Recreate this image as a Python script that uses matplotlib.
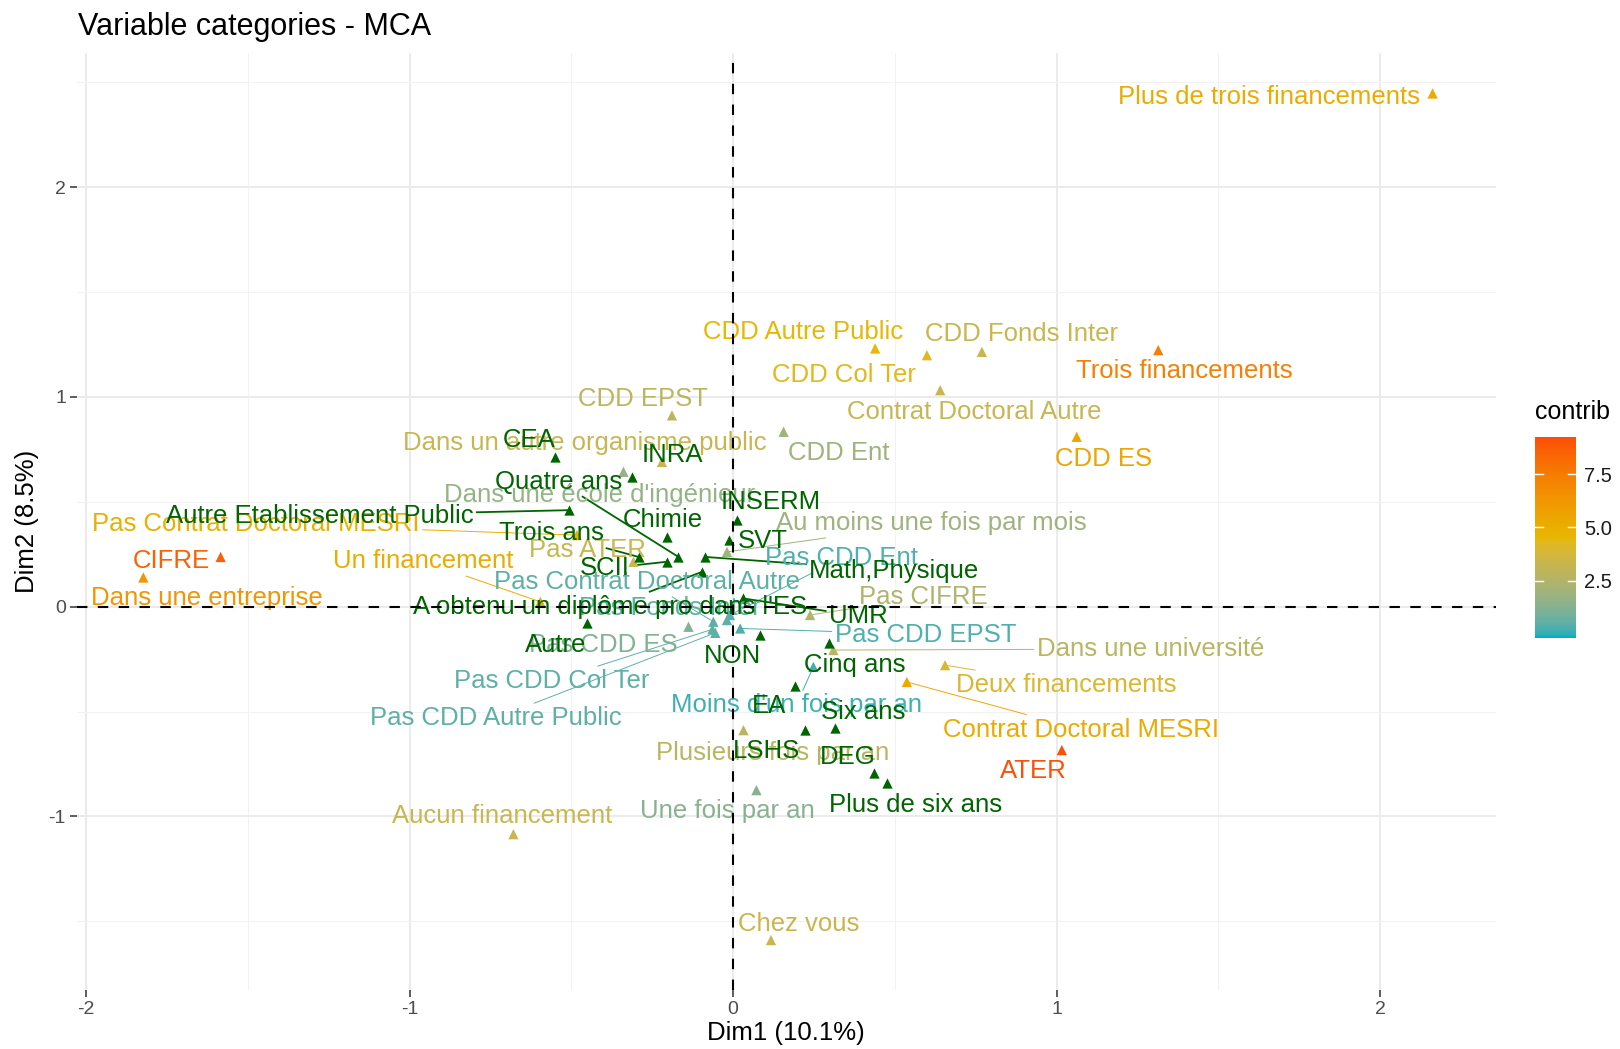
import numpy as np
import matplotlib.pyplot as plt
from matplotlib.colors import ListedColormap, Normalize, to_rgb
from matplotlib.lines import Line2D

plt.rcParams['font.family'] = ['Liberation Sans', 'DejaVu Sans']

# active categories: coordinates on Dim1 / Dim2 and contribution
active_cats = [
    "Plus de trois financements", "Trois financements", "Deux financements",
    "Un financement", "Aucun financement",
    "Contrat Doctoral MESRI", "Pas Contrat Doctoral MESRI",
    "Contrat Doctoral Autre", "Pas Contrat Doctoral Autre",
    "CIFRE", "Pas CIFRE", "ATER", "Pas ATER",
    "CDD ES", "Pas CDD ES", "CDD EPST", "Pas CDD EPST",
    "CDD Col Ter", "Pas CDD Col Ter", "CDD Autre Public", "Pas CDD Autre Public",
    "CDD Ent", "Pas CDD Ent", "CDD Fonds Inter", "Pas Fonds Inter",
    "Dans une université", "Dans une école d'ingénieur",
    "Dans un autre organisme public", "Dans une entreprise", "Chez vous",
    "Au moins une fois par mois", "Plusieurs fois par an",
    "Une fois par an", "Moins d'un fois par an",
]
active_dim1 = [2.162, 1.314, 0.655, -0.596, -0.679,
               0.537, -0.483, 0.640, -0.061,
               -1.584, 0.238, 1.016, -0.308,
               1.062, -0.138, -0.189, 0.022,
               0.599, -0.064, 0.439, -0.055,
               0.156, -0.010, 0.769, -0.019,
               0.310, -0.339, -0.220, -1.823, 0.117,
               -0.019, 0.032, 0.072, 0.248]
active_dim2 = [2.447, 1.223, -0.279, 0.023, -1.085,
               -0.359, 0.341, 1.032, -0.072,
               0.237, -0.040, -0.684, 0.214,
               0.810, -0.096, 0.912, -0.104,
               1.199, -0.108, 1.231, -0.125,
               0.834, -0.040, 1.215, -0.064,
               -0.207, 0.643, 0.690, 0.139, -1.590,
               0.261, -0.589, -0.875, -0.287]
active_contrib = [5.2, 7.3, 4.0, 5.2, 3.3,
                  5.3, 5.0, 3.2, 0.5,
                  8.6, 2.4, 9.2, 3.2,
                  5.5, 1.1, 2.8, 0.3,
                  4.3, 0.5, 4.5, 0.5,
                  1.9, 0.3, 3.3, 0.5,
                  2.7, 1.6, 3.2, 6.3, 3.3,
                  1.9, 2.7, 1.3, 0.1]

# supplementary categories
sup_cats = [
    "CEA", "INRA", "INSERM", "Autre Etablissement Public", "UMR", "EA", "Autre",
    "Chimie", "SCII", "SVT", "Math,Physique", "LSHS", "DEG",
    "Trois ans", "Quatre ans", "Cinq ans", "Six ans", "Plus de six ans",
    "A obtenu un diplôme pro dans l'ES", "NON",
]
sup_dim1 = [-0.549, -0.313, 0.012, -0.508, 0.032, 0.192, -0.452,
            -0.205, -0.205, -0.014, -0.086, 0.223, 0.434,
            -0.292, -0.169, 0.295, 0.315, 0.475,
            -0.096, 0.084]
sup_dim2 = [0.714, 0.619, 0.412, 0.460, 0.039, -0.379, -0.080,
            0.333, 0.214, 0.317, 0.237, -0.589, -0.795,
            0.237, 0.237, -0.175, -0.581, -0.843,
            0.166, -0.136]

# repelled label anchors (data units)
active_label_xy = [(1.657, 2.429), (1.395, 1.123), (1.031, -0.374),
                   (-0.958, 0.217), (-0.715, -1.000),
                   (1.076, -0.586), (-1.475, 0.394), (0.744, 0.926), (-0.265, 0.118),
                   (-1.736, 0.217), (0.587, 0.044), (0.929, -0.783), (-0.450, 0.271),
                   (1.146, 0.704), (-0.402, -0.182), (-0.278, 0.990), (0.594, -0.133),
                   (0.342, 1.103), (-0.562, -0.355), (0.217, 1.310), (-0.734, -0.532),
                   (0.326, 0.734), (0.335, 0.232), (0.891, 1.300), (-0.195, -0.005),
                   (1.290, -0.202), (-0.412, 0.532), (-0.460, 0.778), (-1.628, 0.039),
                   (0.204, -1.512),
                   (0.613, 0.399), (0.121, -0.700), (-0.019, -0.975), (0.195, -0.470)]
sup_label_xy = [(-0.632, 0.793), (-0.188, 0.724), (0.115, 0.498), (-1.277, 0.433),
                (0.386, -0.044), (0.112, -0.473), (-0.549, -0.182),
                (-0.217, 0.414), (-0.396, 0.182), (0.093, 0.315), (0.498, 0.172),
                (0.102, -0.690), (0.354, -0.719),
                (-0.562, 0.350), (-0.539, 0.596), (0.377, -0.276), (0.402, -0.502),
                (0.565, -0.946),
                (-0.380, 0.000), (-0.003, -0.236)]


def _to_lab(rgb):
    c = np.asarray(rgb, dtype=float)
    lin = np.where(c <= 0.04045, c / 12.92, ((c + 0.055) / 1.055) ** 2.4)
    m = np.array([[0.4124, 0.3576, 0.1805],
                  [0.2126, 0.7152, 0.0722],
                  [0.0193, 0.1192, 0.9505]])
    xyz = m @ lin / np.array([0.95047, 1.0, 1.08883])
    f = np.where(xyz > 0.008856, np.cbrt(xyz), 7.787 * xyz + 16 / 116)
    return np.array([116 * f[1] - 16, 500 * (f[0] - f[1]), 200 * (f[1] - f[2])])


def _from_lab(lab):
    L, a, b = lab
    fy = (L + 16) / 116
    fx = fy + a / 500
    fz = fy - b / 200
    f = np.array([fx, fy, fz])
    xyz = np.where(f ** 3 > 0.008856, f ** 3, (f - 16 / 116) / 7.787)
    xyz = xyz * np.array([0.95047, 1.0, 1.08883])
    mi = np.array([[3.2406, -1.5372, -0.4986],
                   [-0.9689, 1.8758, 0.0415],
                   [0.0557, -0.2040, 1.0570]])
    lin = mi @ xyz
    c = np.where(lin <= 0.0031308, 12.92 * lin, 1.055 * np.clip(lin, 0, None) ** (1 / 2.4) - 0.055)
    return np.clip(c, 0, 1)


def lab_gradient(hexes, n=256):
    labs = [_to_lab(to_rgb(h)) for h in hexes]
    out = []
    for t in np.linspace(0, 1, n):
        pos = t * (len(labs) - 1)
        i = min(int(pos), len(labs) - 2)
        w = pos - i
        out.append(_from_lab((1 - w) * labs[i] + w * labs[i + 1]))
    return ListedColormap(out)


cmap = lab_gradient(["#00AFBB", "#E7B800", "#FC4E07"])
norm = Normalize(vmin=-0.2, vmax=9.25)
sup_color = "#006400"
label_size = 18.5

fig = plt.figure(figsize=(16.2, 10.49), dpi=100)
ax = fig.add_axes([77 / 1620, 1 - 990 / 1049, (1496 - 77) / 1620, (990 - 53) / 1049])
ax.set_xlim(-2.028, 2.358)
ax.set_ylim(-1.828, 2.640)

ax.set_xticks([-2, -1, 0, 1, 2])
ax.set_yticks([-1, 0, 1, 2])
ax.set_xticks(np.arange(-1.5, 2.4, 1.0), minor=True)
ax.set_yticks([-1.5, -0.5, 0.5, 1.5, 2.5], minor=True)
ax.set_xticklabels(["-2", "-1", "0", "1", "2"])
ax.set_yticklabels(["-1", "0", "1", "2"])
ax.grid(which="major", color="#EBEBEB", linewidth=1.4)
ax.grid(which="minor", color="#F2F2F2", linewidth=0.8)
ax.set_axisbelow(True)
for s in ax.spines.values():
    s.set_visible(False)
ax.tick_params(which="major", length=5, width=1.1, color="#333333",
               labelsize=14, labelcolor="#4D4D4D", pad=3)
ax.tick_params(which="minor", length=0)

ax.axhline(0, color="black", linestyle=(0, (5, 5)), linewidth=1.5, zorder=6)
ax.axvline(0, color="black", linestyle=(0, (5, 5)), linewidth=1.5, zorder=6)

act_colors = [cmap(norm(c)) for c in active_contrib]
ax.scatter(active_dim1, active_dim2, marker="^", s=55, c=act_colors,
           linewidths=0, zorder=3)
ax.scatter(sup_dim1, sup_dim2, marker="^", s=55, c=sup_color,
           linewidths=0, zorder=3)

items = []
for name, (lx, ly), px, py, col in zip(active_cats, active_label_xy,
                                        active_dim1, active_dim2, act_colors):
    t = ax.text(lx, ly, name, color=col, fontsize=label_size,
                ha="center", va="center", zorder=4)
    items.append((t, px, py, col, 0.7))
for name, (lx, ly), px, py in zip(sup_cats, sup_label_xy, sup_dim1, sup_dim2):
    t = ax.text(lx, ly, name, color=sup_color, fontsize=label_size,
                ha="center", va="center", zorder=5)
    items.append((t, px, py, sup_color, 1.3))

# segments from label box to its point when the label sits away from it
fig.canvas.draw()
renderer = fig.canvas.get_renderer()
inv = ax.transData.inverted()
for t, px, py, col, lw in items:
    bb = t.get_window_extent(renderer)
    pad = 3
    x0, x1, y0, y1 = bb.x0 - pad, bb.x1 + pad, bb.y0 - pad, bb.y1 + pad
    X, Y = ax.transData.transform((px, py))
    if x0 <= X <= x1 and y0 <= Y <= y1:
        continue
    cx, cy = (x0 + x1) / 2, (y0 + y1) / 2
    dx, dy = X - cx, Y - cy
    tx = (x1 - cx) / abs(dx) if dx else np.inf
    ty = (y1 - cy) / abs(dy) if dy else np.inf
    k = min(tx, ty)
    ex, ey = cx + k * dx, cy + k * dy
    if np.hypot(X - ex, Y - ey) < 22:
        continue
    (sx, sy), (qx, qy) = inv.transform([(ex, ey), (X, Y)])
    ax.add_line(Line2D([sx, qx], [sy, qy], color=col, linewidth=lw, zorder=2))

fig.text(78 / 1620, 1 - 35 / 1049, "Variable categories - MCA", fontsize=22,
         ha="left", va="baseline", color="black")
fig.text(786 / 1620, 1 - 1033 / 1049, "Dim1 (10.1%)", fontsize=18.5,
         ha="center", va="center")
fig.text(27 / 1620, 1 - 521 / 1049, "Dim2 (8.5%)", fontsize=18.5,
         ha="center", va="center", rotation=90)

# colour bar
cax = fig.add_axes([1535 / 1620, 1 - 638 / 1049, 41 / 1620, 201 / 1049])
grad = np.linspace(norm.vmin, norm.vmax, 300).reshape(-1, 1)
cax.imshow(grad, aspect="auto", cmap=cmap, norm=norm, origin="lower",
           extent=[0, 1, norm.vmin, norm.vmax])
cax.set_xlim(0, 1)
cax.set_ylim(norm.vmin, norm.vmax)
for s in cax.spines.values():
    s.set_visible(False)
cax.set_xticks([])
cax.yaxis.tick_right()
cax.set_yticks([2.5, 5.0, 7.5])
cax.set_yticklabels(["2.5", "5.0", "7.5"])
cax.tick_params(axis="y", length=0, labelsize=14.5, labelcolor="#1A1A1A", pad=6)
for v in [2.5, 5.0, 7.5]:
    cax.plot([0, 0.2], [v, v], color="white", linewidth=1.0)
    cax.plot([0.8, 1], [v, v], color="white", linewidth=1.0)
fig.text(1535 / 1620, 1 - 412 / 1049, "contrib", fontsize=18,
         ha="left", va="center")

fig.savefig("out.png", dpi=100)
